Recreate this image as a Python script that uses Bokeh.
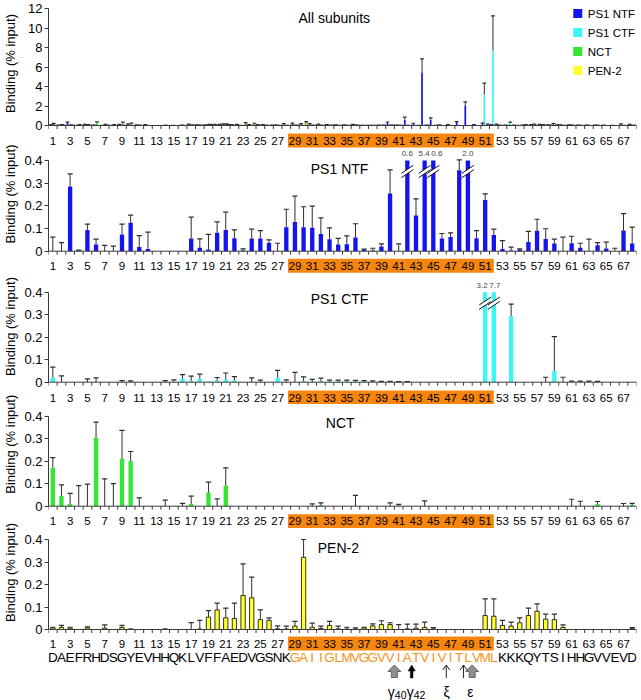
import math
from bokeh.plotting import figure
from bokeh.layouts import column, row
from bokeh.models import Range1d, FixedTicker
from bokeh.core.properties import value
from bokeh.embed import file_html
from bokeh.resources import INLINE

# ---------------- data ----------------
positions = list(range(1, 69))
sequence = list("DAEFRHDSGYEVHHQKLVFFAEDVGSNKGAIIGLMVGGVVIATVIVITLVMLKKKQYTSIHHGVVEVD")
tick_positions = list(range(1, 68, 2))
tick_labels = [str(t) for t in tick_positions]
tmd_first, tmd_last = 29, 52
series_names = ["PS1 NTF", "PS1 CTF", "NCT", "PEN-2"]
series_colors = ["#1414EE", "#3CF5F5", "#33E633", "#FFFF2E"]
y_title = "Binding (% input)"

ntf_mean = [0, 0, 0.285, 0.003, 0.094, 0.029, 0, 0, 0.074, 0.125,
            0.019, 0.010, 0, 0, 0, 0, 0.056, 0.015, 0.007, 0.081,
            0.094, 0.057, 0.003, 0.056, 0.056, 0.037, 0, 0.106, 0.129, 0.106,
            0.103, 0.076, 0.053, 0.029, 0.031, 0.060, 0.007, 0.003, 0.021, 0.254,
            0, 0.6, 0.157, 5.4, 0.6, 0.056, 0.063, 0.357, 2.0, 0.057,
            0.226, 0.071, 0.010, 0.003, 0.007, 0.041, 0.090, 0.054, 0.034, 0,
            0.035, 0.015, 0, 0.026, 0.012, 0, 0.091, 0.034]
ntf_sd = [0.062, 0.038, 0.056, 0.002, 0.025, 0.024, 0.026, 0.022, 0.045, 0.034,
          0.050, 0.074, 0, 0, 0, 0, 0.094, 0.039, 0.067, 0.048,
          0.078, 0.037, 0.007, 0.041, 0.035, 0.013, 0.035, 0.079, 0.114, 0.090,
          0.096, 0.071, 0.050, 0.028, 0.037, 0.061, 0.002, 0.010, 0.011, 0.105,
          0.032, 0.25, 0.074, 1.44, 0.18, 0.022, 0.018, 0.046, 0.43, 0.034,
          0.027, 0.026, 0.037, 0.015, 0.003, 0.046, 0.051, 0.045, 0.019, 0.062,
          0.031, 0.020, 0.053, 0.012, 0.028, 0.013, 0.075, 0.072]

ctf_mean = [0.021, 0, 0, 0, 0, 0, 0, 0, 0, 0,
            0, 0, 0, 0, 0, 0.016, 0.006, 0.015, 0.003, 0.009,
            0.012, 0.009, 0, 0, 0, 0, 0.021, 0, 0, 0.005,
            0, 0.004, 0.003, 0.003, 0.003, 0.003, 0.002, 0.002, 0.001, 0.001,
            0.001, 0.001, 0, 0, 0, 0, 0, 0, 0, 0,
            3.2, 7.7, 0, 0.293, 0, 0, 0, 0, 0.05, 0,
            0, 0, 0, 0, 0, 0, 0, 0]
ctf_sd = [0.046, 0.028, 0, 0, 0.015, 0.019, 0, 0, 0.007, 0.006,
          0, 0, 0, 0.007, 0.010, 0.018, 0.021, 0.021, 0, 0.012,
          0.029, 0.016, 0, 0.019, 0.009, 0, 0.032, 0.010, 0.044, 0.019,
          0.013, 0.014, 0.006, 0.006, 0.006, 0.005, 0.005, 0.004, 0.003, 0.003,
          0.002, 0.002, 0, 0, 0, 0, 0, 0, 0, 0,
          1.14, 3.55, 0, 0.054, 0, 0, 0, 0.022, 0.153, 0.022,
          0.005, 0.005, 0.005, 0.004, 0, 0, 0, 0]

nct_mean = [0.172, 0.045, 0.010, 0, 0, 0.305, 0, 0, 0.213, 0.202,
            0, 0, 0, 0, 0, 0, 0.010, 0, 0.061, 0,
            0.092, 0, 0, 0, 0, 0, 0, 0, 0, 0,
            0, 0.005, 0, 0, 0, 0, 0, 0, 0, 0,
            0, 0, 0, 0, 0, 0, 0, 0, 0, 0,
            0, 0, 0, 0, 0, 0, 0, 0, 0, 0,
            0, 0, 0, 0.010, 0, 0, 0, 0.005]
nct_sd = [0.045, 0.050, 0.047, 0.092, 0.098, 0.070, 0.122, 0.101, 0.125, 0.042,
          0.037, 0, 0, 0.027, 0, 0.013, 0.035, 0, 0.046, 0.033,
          0.079, 0, 0, 0, 0, 0, 0, 0, 0, 0,
          0.010, 0.010, 0, 0, 0, 0.048, 0, 0, 0, 0.015,
          0.008, 0, 0, 0.024, 0, 0, 0, 0, 0, 0,
          0, 0, 0, 0, 0, 0, 0, 0, 0, 0,
          0.031, 0.022, 0, 0.011, 0, 0, 0.012, 0.008]

pen2_mean = [0.007, 0.009, 0.006, 0, 0.007, 0, 0.006, 0, 0.009, 0.003,
             0, 0, 0, 0.003, 0, 0, 0, 0.002, 0.055, 0.087,
             0.052, 0.049, 0.151, 0.141, 0.044, 0.041, 0.003, 0.002, 0.015, 0.321,
             0.010, 0.005, 0.018, 0.003, 0.002, 0.002, 0.007, 0.016, 0.022, 0.022,
             0, 0.003, 0.006, 0.009, 0.003, 0, 0, 0, 0, 0,
             0.062, 0.059, 0.018, 0.015, 0.030, 0.062, 0.081, 0.046, 0.044, 0.009,
             0, 0, 0, 0, 0, 0, 0, 0.004]
pen2_sd = [0.003, 0.009, 0.004, 0, 0.005, 0, 0.015, 0, 0.009, 0,
           0, 0, 0, 0, 0, 0, 0.031, 0.039, 0.029, 0.030,
           0.043, 0.068, 0.141, 0.092, 0.043, 0.011, 0.013, 0.013, 0.021, 0.079,
           0.018, 0.010, 0.018, 0.012, 0.008, 0.005, 0.003, 0.009, 0.017, 0.008,
           0.022, 0.021, 0.018, 0.024, 0.006, 0, 0, 0, 0, 0,
           0.074, 0.077, 0.023, 0.018, 0.022, 0.033, 0.033, 0.022, 0.024, 0.012,
           0, 0, 0, 0, 0, 0, 0, 0.005]

# cleavage sites (between residues) and their labels
cleavage_sites = [40.5, 42.5, 46.5, 48.5, 49.5]
cleavage_kinds = ["grey", "black", "open", "open", "grey"]
cleavage_symbols = ["γ", "γ", "ξ", "ε"]
cleavage_subs = ["40", "42", "", ""]
cleavage_label_x = [40.55, 42.74, 46.55, 49.3]

# ---------------- styling / geometry ----------------
FONT = "Liberation Sans"
TW = 20                               # width of the strip holding the y titles
W, LEFT, RIGHT = 621, 28, 5
XU = 68.0 / (W - LEFT - RIGHT)        # data units per screen pixel (x)
AX = "#3a3a3a"
ERR = "#2e2e2e"
ORANGE_BOX = "#F7860F"
ORANGE_TXT = "#F5931E"


def xr(px):
    """reference page pixel -> category coordinate"""
    return (px - 43.4) / 8.647


panels = [
    dict(top=0, h=148, z0=125, s=9.75, ymax=12, ticks=[0, 2, 4, 6, 8, 10, 12], lab=15,
         title="All subunits", tx=297.7, ty=17, yt=63),
    dict(top=148, h=126, z0=102.7, s=226.75, ymax=0.4, ticks=[0, 0.1, 0.2, 0.3, 0.4], lab=14.5,
         title="PS1 NTF", tx=310, ty=168, yt=193.5),
    dict(top=274, h=130, z0=107.7, s=225.0, ymax=0.4, ticks=[0, 0.1, 0.2, 0.3, 0.4], lab=15.3,
         title="PS1 CTF", tx=310, ty=298, yt=326),
    dict(top=404, h=124, z0=101.7, s=224.25, ymax=0.4, ticks=[0, 0.1, 0.2, 0.3, 0.4], lab=15,
         title="NCT", tx=325, ty=422.7, yt=443.7),
    dict(top=528, h=172, z0=101, s=225.0, ymax=0.4, ticks=[0, 0.1, 0.2, 0.3, 0.4], lab=14,
         title="PEN-2", tx=317, ty=547, yt=572),
]
TOTAL_H = sum(sp["h"] for sp in panels)


def setup(spec):
    top, h, z0, s = spec["top"], spec["h"], spec["z0"], spec["s"]
    p = figure(width=W, height=h,
               x_range=Range1d(0.5, 68.5),
               y_range=Range1d(-(h - z0) / s, z0 / s),
               output_backend="svg", toolbar_location=None,
               x_axis_location=None, y_axis_location="left",
               min_border_left=LEFT, min_border_right=RIGHT,
               min_border_top=0, min_border_bottom=0)
    p.grid.visible = False
    p.outline_line_color = None
    p.background_fill_color = "white"
    p.border_fill_color = "white"
    ax = p.yaxis[0]
    ax.bounds = (0, spec["ymax"])
    ax.ticker = FixedTicker(ticks=spec["ticks"])
    ax.major_label_overrides = {t: ("%g" % t) for t in spec["ticks"]}
    ax.axis_line_color = AX
    ax.major_tick_line_color = AX
    ax.major_tick_out = 4
    ax.major_tick_in = 0
    ax.minor_tick_out = 0
    ax.minor_tick_in = 0
    ax.major_label_standoff = 2
    ax.major_label_text_font = FONT
    ax.major_label_text_font_size = "13px"
    ax.major_label_text_color = "black"

    def Y(py):
        return (top + z0 - py) / s

    p.text(x=[xr(spec["tx"])], y=[Y(spec["ty"])], text=[spec["title"]],
           text_align="left", text_baseline="middle",
           text_font=value(FONT), text_font_size=value("14px"), text_color="black")
    return p, Y


def category_axis(p, s, lab):
    d = 1.0 / s
    p.quad(left=[tmd_first - 0.8], right=[tmd_last], top=[-(lab - 7) * d],
           bottom=[-(lab + 7) * d], fill_color=ORANGE_BOX, line_color=None)
    p.text(x=tick_positions, y=[-lab * d] * len(tick_positions), text=tick_labels,
           text_align="center", text_baseline="middle",
           text_font=value(FONT), text_font_size=value("11.5px"), text_color="black")
    edges = [k + 0.5 for k in range(0, len(positions) + 1)]
    p.segment(x0=[edges[0]], y0=[0], x1=[edges[-1]], y1=[0], line_color=AX, line_width=1)
    p.segment(x0=edges, y0=[0] * len(edges), x1=edges, y1=[-3.5 * d] * len(edges),
              line_color=AX, line_width=1)


def error_bars(p, xs, means, sds, cap_half, clip=None):
    x, y0, y1 = [], [], []
    for xi, m, sd in zip(xs, means, sds):
        if sd <= 0 or (clip is not None and m > clip):
            continue
        x.append(xi)
        y0.append(m)
        y1.append(m + sd)
    p.segment(x0=x, y0=y0, x1=x, y1=y1, line_color=ERR, line_width=1)
    p.segment(x0=[v - cap_half for v in x], y0=y1, x1=[v + cap_half for v in x], y1=y1,
              line_color=ERR, line_width=1.2)


def breaks(p, means, ymax, s, label_shift):
    d = 1.0 / s
    bx = [x for x, m in zip(positions, means) if m > ymax]
    bv = [m for m in means if m > ymax]
    yc = ymax - 11 * d
    hw, hh, off = 6 * XU, 4 * d, 2.2 * d
    p.segment(x0=[x - hw for x in bx], y0=[yc - hh] * len(bx), x1=[x + hw for x in bx],
              y1=[yc + hh] * len(bx), line_color="white", line_width=3.5)
    for o in (-off, off):
        p.segment(x0=[x - hw for x in bx], y0=[yc - hh + o] * len(bx),
                  x1=[x + hw for x in bx], y1=[yc + hh + o] * len(bx),
                  line_color="#111111", line_width=1)
    p.text(x=[x + label_shift.get(x, 0) * XU for x in bx],
           y=[ymax + 6.8 * d] * len(bx), text=["%.1f" % v for v in bv],
           text_align="center", text_baseline="middle",
           text_font=value(FONT), text_font_size=value("8px"), text_color="#444444")


figs = []

# ---- panel 1: all subunits ----
spec = panels[0]
p, Y = setup(spec)
offsets = [-0.3, -0.1, 0.1, 0.3]
all_means = [ntf_mean, ctf_mean, nct_mean, pen2_mean]
all_sds = [ntf_sd, ctf_sd, nct_sd, pen2_sd]
for k in range(4):
    xs = [x + offsets[k] for x in positions]
    p.vbar(x=xs, top=all_means[k], bottom=0, width=0.2, fill_color=series_colors[k],
           line_color=("black" if k == 3 else None), line_width=0.4)
for k in range(4):
    xs = [x + offsets[k] for x in positions]
    error_bars(p, xs, all_means[k], all_sds[k], cap_half=0.22)
category_axis(p, spec["s"], spec["lab"])
# legend
ly = [13, 32, 51, 70]
p.scatter(x=[xr(577)] * 4, y=[Y(v) for v in ly], marker="square", size=9,
          fill_color=series_colors, line_color=None)
p.text(x=[xr(587)] * 4, y=[Y(v) for v in ly], text=series_names,
       text_align="left", text_baseline="middle",
       text_font=value(FONT), text_font_size=value("11.5px"), text_color="black")
figs.append(p)

# ---- panels 2-5: individual subunits ----
single = [(ntf_mean, ntf_sd, 0, {44: -0.5, 45: 3.5}), (ctf_mean, ctf_sd, 1, {51: -3, 52: 1}),
          (nct_mean, nct_sd, 2, {}), (pen2_mean, pen2_sd, 3, {})]
for i, (means, sds, k, shift) in enumerate(single):
    spec = panels[i + 1]
    p, Y = setup(spec)
    ymax = spec["ymax"]
    shown = [min(m, ymax) for m in means]
    p.vbar(x=positions, top=shown, bottom=0, width=0.5, fill_color=series_colors[k],
           line_color=("black" if k == 3 else None), line_width=0.8)
    error_bars(p, positions, means, sds, cap_half=0.3, clip=ymax)
    breaks(p, means, ymax, spec["s"], shift)
    category_axis(p, spec["s"], spec["lab"])
    if k == 3:
        # residue letters
        p.text(x=positions, y=[Y(656.7)] * len(positions), text=sequence,
               text_align="center", text_baseline="middle",
               text_font=value(FONT), text_font_size=value("13.5px"),
               text_color=[ORANGE_TXT if tmd_first <= x <= tmd_last else "black"
                           for x in positions])
        # cleavage arrows
        tip = 664.5
        gxs, gys, bxs, bys, oxs, oys = [], [], [], [], [], []
        for cx, kind in zip(cleavage_sites, cleavage_kinds):
            if kind == "grey":
                pts = [(0, 0), (6.5, 6.5), (3, 6.5), (3, 12.5), (-3, 12.5), (-3, 6.5), (-6.5, 6.5)]
                gxs.append([cx + a * XU for a, b in pts])
                gys.append([Y(tip + b) for a, b in pts])
            elif kind == "black":
                pts = [(0, 0), (3.6, 6), (1.3, 6), (1.3, 13), (-1.3, 13), (-1.3, 6), (-3.6, 6)]
                bxs.append([cx + a * XU for a, b in pts])
                bys.append([Y(tip + b) for a, b in pts])
            else:
                oxs.append([cx, cx])
                oys.append([Y(tip), Y(tip + 13)])
                oxs.append([cx - 3.5 * XU, cx, cx + 3.5 * XU])
                oys.append([Y(tip + 5), Y(tip), Y(tip + 5)])
        p.patches(xs=gxs, ys=gys, fill_color="#8f8f8f", line_color="#4d4d4d", line_width=0.8)
        p.patches(xs=bxs, ys=bys, fill_color="black", line_color="black", line_width=0.5)
        p.multi_line(xs=oxs, ys=oys, line_color="#222222", line_width=1)
        # cleavage labels
        p.text(x=cleavage_label_x, y=[Y(691)] * 4, text=cleavage_symbols,
               text_align=["right", "right", "center", "center"], text_baseline="alphabetic",
               text_font=value(FONT), text_font_size=value("14px"), text_color="black")
        p.text(x=cleavage_label_x[:2], y=[Y(694)] * 2, text=cleavage_subs[:2],
               text_align="left", text_baseline="alphabetic",
               text_font=value(FONT), text_font_size=value("10.5px"), text_color="black")
    figs.append(p)

# ---- strip with the rotated y-axis titles (y measured in page pixels) ----
t = figure(width=TW, height=TOTAL_H, x_range=Range1d(0, TW),
           y_range=Range1d(TOTAL_H, 0), output_backend="svg", toolbar_location=None,
           x_axis_location=None, y_axis_location=None,
           min_border_left=0, min_border_right=0, min_border_top=0, min_border_bottom=0)
t.grid.visible = False
t.outline_line_color = None
t.text(x=[10] * len(panels), y=[sp["yt"] for sp in panels], text=[y_title] * len(panels),
       angle=math.pi / 2, text_align="center", text_baseline="middle",
       text_font=value(FONT), text_font_size=value("13px"), text_color="black")

layout = row(t, column(*figs))
open("out.html", "w").write(file_html(layout, INLINE))
